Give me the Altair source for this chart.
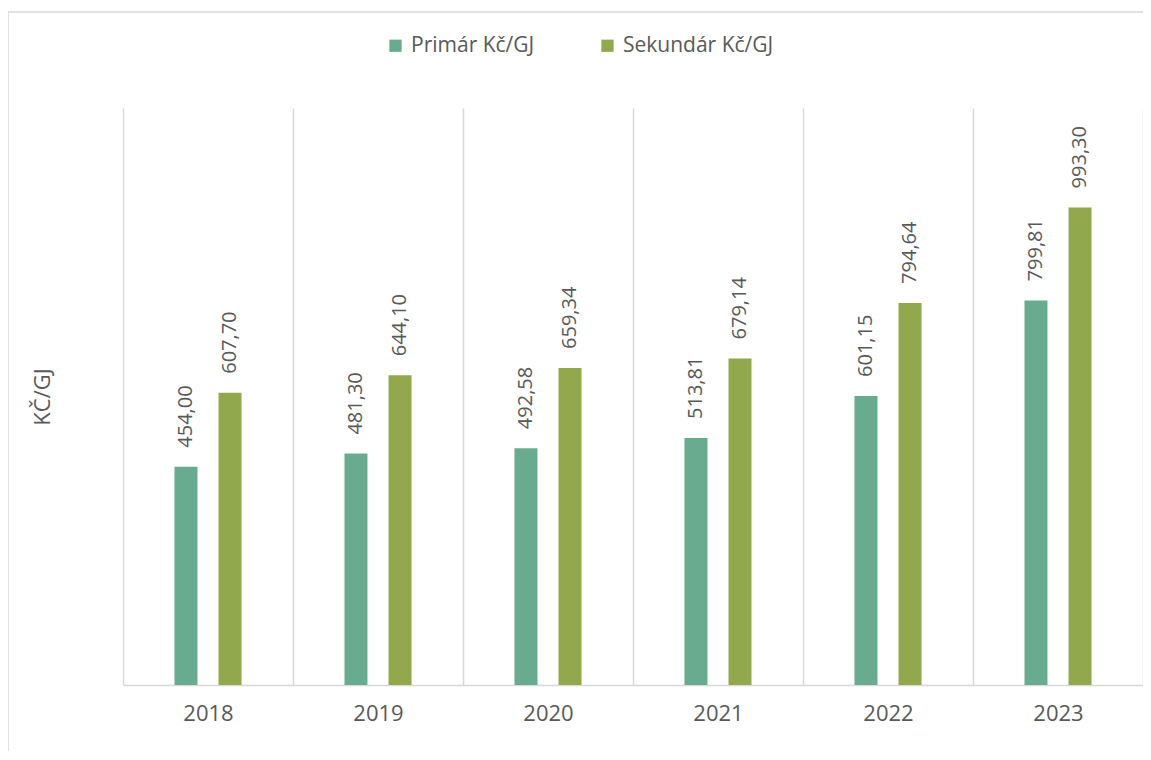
import altair as alt
import pandas as pd

years = ["2018", "2019", "2020", "2021", "2022", "2023"]
primar = [454.00, 481.30, 492.58, 513.81, 601.15, 799.81]
sekundar = [607.70, 644.10, 659.34, 679.14, 794.64, 993.30]
series = ["Primár Kč/GJ", "Sekundár Kč/GJ"]
colors = ["#68AB8F", "#92A84C"]

rows = []
for yr, p, s in zip(years, primar, sekundar):
    rows.append({"year": yr, "series": series[0], "value": p})
    rows.append({"year": yr, "series": series[1], "value": s})
df = pd.DataFrame(rows)

FONT = "Open Sans"
TEXT = "#595959"
GRID = "#D9D9D9"

x = alt.X(
    "year:N", sort=years, title=None,
    scale=alt.Scale(paddingInner=0, paddingOuter=0),
    axis=alt.Axis(
        tickBand="extent", grid=True, gridColor=GRID, gridWidth=1.5,
        domainColor=GRID, domainWidth=1.5, ticks=False,
        labelFont=FONT, labelFontSize=22, labelColor=TEXT,
        labelPadding=18, labelAngle=0,
    ),
)
y = alt.Y(
    "value:Q",
    scale=alt.Scale(domain=[0, 1200], nice=False),
    axis=alt.Axis(
        domain=False, labels=False, ticks=False, grid=False,
        title="KČ/GJ", titleFont=FONT, titleFontSize=22,
        titleFontWeight="normal", titleColor=TEXT, titlePadding=69,
    ),
)
xoff = alt.XOffset(
    "series:N", sort=series,
    scale=alt.Scale(paddingInner=0, paddingOuter=0.93),
)

base = alt.Chart(df)

bars = base.mark_bar(width=23).encode(
    x=x, y=y, xOffset=xoff,
    color=alt.Color(
        "series:N", sort=series,
        scale=alt.Scale(domain=series, range=colors),
        legend=alt.Legend(
            title=None, orient="none", direction="horizontal",
            legendX=262, legendY=-73, symbolType="square",
            symbolSize=150, symbolStrokeWidth=0, labelFont=FONT,
            labelFontSize=21, labelColor=TEXT, columnPadding=62,
            labelOffset=5,
        ),
    ),
)

labels = base.transform_calculate(
    label="replace(format(datum.value, '.2f'), '.', ',')"
).mark_text(
    angle=270, align="left", baseline="middle", dx=19,
    font=FONT, fontSize=20, color=TEXT,
).encode(x=x, y=y, xOffset=xoff, text="label:N")

border_left = alt.Chart(pd.DataFrame({"a": [0]})).mark_rule(
    color=GRID, strokeWidth=1.5
).encode(x=alt.value(-115), y=alt.value(-96), y2=alt.value(680))
border_top = alt.Chart(pd.DataFrame({"a": [0]})).mark_rule(
    color=GRID, strokeWidth=1.5
).encode(x=alt.value(-115), x2=alt.value(1020), y=alt.value(-96))

chart = alt.layer(bars, labels, border_left, border_top).properties(
    width=1020, height=577,
    autosize=alt.AutoSizeParams(type="none"),
    padding={"left": 115, "top": 100, "right": 0, "bottom": 66},
    background="white",
).configure_view(stroke=None)

chart.save("out.html", embed_options={"renderer": "svg", "actions": False})
